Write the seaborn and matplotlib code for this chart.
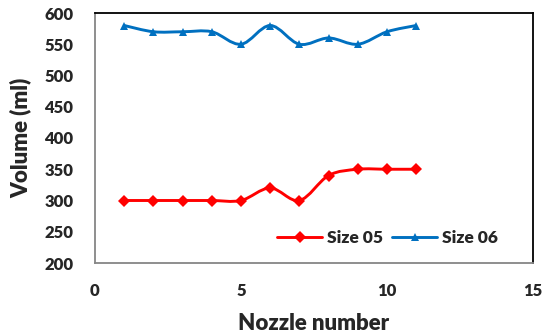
import numpy as np
import pandas as pd
import matplotlib
matplotlib.use("Agg")
import matplotlib.pyplot as plt
from matplotlib.path import Path
from matplotlib.patches import PathPatch
from matplotlib.lines import Line2D
import seaborn as sns

nozzle = [1, 2, 3, 4, 5, 6, 7, 8, 9, 10, 11]
size05 = [300, 300, 300, 300, 300, 320, 300, 340, 350, 350, 350]
size06 = [580, 570, 570, 570, 550, 580, 550, 560, 550, 570, 580]
series_names = ["Size 05", "Size 06"]
colors = {"Size 05": "#FF0000", "Size 06": "#0070C0"}
markers = {"Size 05": "D", "Size 06": "^"}

df = pd.concat([
    pd.DataFrame({"Nozzle number": nozzle, "Volume (ml)": size05, "Series": "Size 05"}),
    pd.DataFrame({"Nozzle number": nozzle, "Volume (ml)": size06, "Series": "Size 06"}),
])

sns.set_theme(style="white")
plt.rcParams["font.family"] = ["Lato", "DejaVu Sans"]
W = "heavy"
plt.rcParams["font.weight"] = W

fig = plt.figure(figsize=(5.5, 3.34), dpi=100)
ax = fig.add_axes([95 / 550, 1 - 263 / 334, 438 / 550, 250 / 334])


def smooth_path(xs, ys, t=1/6):
    """Catmull-Rom style bezier path (Excel 'smoothed line')."""
    xs = np.asarray(xs, float)
    ys = np.asarray(ys, float)
    n = len(xs)
    verts = [(xs[0], ys[0])]
    codes = [Path.MOVETO]
    for i in range(n - 1):
        p0 = np.array([xs[max(i - 1, 0)], ys[max(i - 1, 0)]])
        p1 = np.array([xs[i], ys[i]])
        p2 = np.array([xs[i + 1], ys[i + 1]])
        p3 = np.array([xs[min(i + 2, n - 1)], ys[min(i + 2, n - 1)]])
        c1 = p1 + (p2 - p0) * t
        c2 = p2 - (p3 - p1) * t
        verts += [tuple(c1), tuple(c2), tuple(p2)]
        codes += [Path.CURVE4] * 3
    return Path(verts, codes)


for name, vals in zip(series_names, [size05, size06]):
    ax.add_patch(PathPatch(smooth_path(nozzle, vals), facecolor="none",
                           edgecolor=colors[name], lw=2.1, zorder=2))

sns.lineplot(data=df, x="Nozzle number", y="Volume (ml)", hue="Series",
             style="Series", markers=markers, dashes=False, palette=colors,
             linewidth=0, markersize=6.3, markeredgewidth=0, ax=ax,
             legend=False, zorder=3)

ax.set_xlim(0, 15)
ax.set_ylim(200, 600)
ax.set_xticks([0, 5, 10, 15])
ax.set_yticks(np.arange(200, 601, 50))
ax.tick_params(axis="both", which="major", labelsize=12, length=4.5, width=1,
               color="#868686", direction="out")
ax.tick_params(axis="x", pad=10)
ax.tick_params(axis="y", pad=11)
for lab in ax.get_xticklabels() + ax.get_yticklabels():
    lab.set_fontweight(W)
ax.set_xlabel("Nozzle number", fontsize=16, fontweight=W, labelpad=10)
ax.set_ylabel("Volume (ml)", fontsize=16, fontweight=W, labelpad=9)

for s in ["left", "bottom"]:
    ax.spines[s].set_color("#868686")
    ax.spines[s].set_linewidth(1.3)
for s in ["top", "right"]:
    ax.spines[s].set_color("black")
    ax.spines[s].set_linewidth(1.3)

handles = [Line2D([0], [0], color=colors[n], marker=markers[n], markersize=6.3,
                  markeredgewidth=0, lw=2.1) for n in series_names]
ax.legend(handles, series_names, loc="center left", bbox_to_anchor=(0.38, 0.10),
          ncol=2, frameon=False, handlelength=2.6, columnspacing=0.5,
          handletextpad=0.3, prop={"weight": W, "size": 12.5})

fig.savefig("out.png", dpi=100)
